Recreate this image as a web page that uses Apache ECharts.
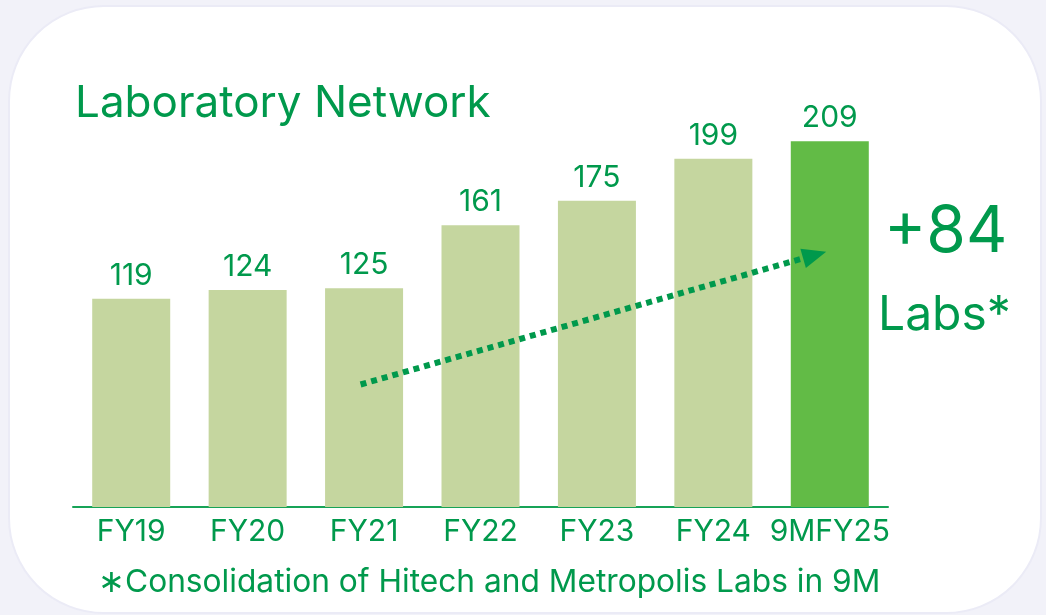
<!DOCTYPE html>
<html>
<head>
<meta charset="utf-8">
<script src="https://cdn.jsdelivr.net/npm/echarts@6/dist/echarts.min.js"></script>
<style>
  html, body { margin: 0; padding: 0; background: #f2f2f9; }
  #card {
    position: absolute; left: 8px; top: 5px; width: 1030px; height: 605px;
    background: #fff; border: 2px solid #ebebf6; border-radius: 96px;
  }
  #main { position: absolute; left: 0; top: 0; width: 1046px; height: 615px; }
</style>
</head>
<body>
<div id="card"></div>
<div id="main"></div>
<script>
// data
const years = ['FY19', 'FY20', 'FY21', 'FY22', 'FY23', 'FY24', '9MFY25']
const labs = [119, 124, 125, 161, 175, 199, 209]
const growthText = '+84'
const growthUnit = 'Labs*'
const footnote = '\u2217Consolidation of Hitech and Metropolis Labs in 9M'
// trend arrow, in data units: [bar position, value]
const arrowFrom = [1.97, 70]
const arrowTo = [5.87, 144]

const GREEN = '#00994c'
const PALE = '#c5d69f'
const BRIGHT = '#62bb46'
const FONT = 'Inter, "Noto Sans", sans-serif'

let chart = echarts.init(document.getElementById('main'))

chart.setOption({
  animation: false,
  title: {
    text: 'Laboratory Network',
    left: 70,
    top: 77,
    textStyle: { color: GREEN, fontSize: 44, fontWeight: 'normal', fontFamily: FONT }
  },
  grid: { left: 73, right: 158, top: 87, bottom: 108 },
  xAxis: [{
    type: 'category',
    data: years,
    axisLine: { lineStyle: { color: '#17a357', width: 2 } },
    axisTick: { show: false },
    axisLabel: { color: GREEN, fontSize: 30, fontFamily: FONT, margin: 10, interval: 0 }
  }, {
    // hidden linear twin of the category axis, for the trend arrow
    type: 'value',
    min: -0.5,
    max: 6.5,
    show: false
  }],
  yAxis: {
    type: 'value',
    min: 0,
    max: 240,
    show: false,
    splitLine: { show: false }
  },
  series: [{
    type: 'bar',
    barWidth: 78,
    data: labs.map((v, i) => ({
      value: v,
      itemStyle: { color: i === labs.length - 1 ? BRIGHT : PALE }
    })),
    label: {
      show: true,
      position: 'top',
      distance: 8,
      color: GREEN,
      fontSize: 30,
      fontFamily: FONT
    }
  }, {
    type: 'line',
    xAxisIndex: 1,
    data: [],
    silent: true,
    markLine: {
      silent: true,
      symbol: ['none', 'triangle'],
      symbolSize: [20, 24],
      label: { show: false },
      lineStyle: { color: GREEN, width: 6, type: [6, 5], cap: 'butt' },
      data: [[
        { coord: arrowFrom },
        { coord: arrowTo }
      ]]
    }
  }],
  graphic: [
    {
      type: 'text',
      left: 884,
      top: 201,
      style: { text: growthText, fill: GREEN, fontSize: 64, fontFamily: FONT }
    },
    {
      type: 'text',
      left: 878,
      top: 292,
      style: { text: growthUnit, fill: GREEN, fontSize: 48, fontFamily: FONT }
    },
    {
      type: 'text',
      left: 98,
      top: 566,
      style: { text: footnote, fill: GREEN, fontSize: 31.7, fontFamily: FONT }
    }
  ]
})
</script>
</body>
</html>
